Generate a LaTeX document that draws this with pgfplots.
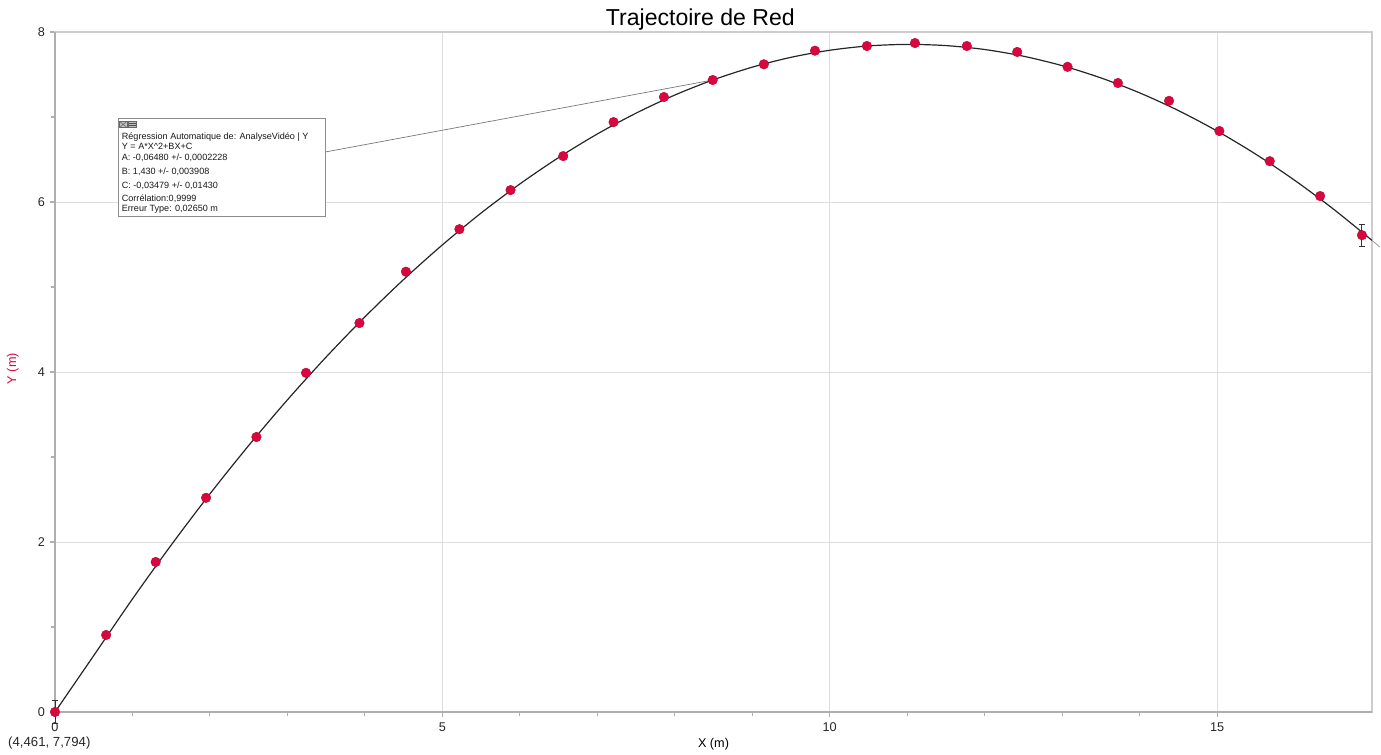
\documentclass[border=0pt]{standalone}
\usepackage{fontspec}
\setmainfont{Liberation Sans}
\usepackage{pgfplots}
\pgfplotsset{compat=1.18}
\usetikzlibrary{calc}
\definecolor{pointred}{RGB}{218,6,62}
\definecolor{gridgray}{RGB}{222,222,222}
\definecolor{axgray}{RGB}{175,175,175}
\definecolor{boxgray}{RGB}{205,205,205}

\begin{document}
\begin{tikzpicture}
\begin{axis}[
  scale only axis, width=987.75pt, height=510pt,
  xmin=0, xmax=17, ymin=0, ymax=8,
  xtick={0,5,10,15}, ytick={0,2,4,6,8},
  minor x tick num=4, minor y tick num=1,
  grid=major, major grid style={gridgray, line width=0.6pt},
  axis line style={boxgray, line width=0.8pt},
  tick style={axgray, line width=0.8pt},
  tick align=outside, major tick length=4pt, minor tick length=3pt,
  xtick pos=left, ytick pos=left,
  ticklabel style={font=\fontsize{9.5}{11}\selectfont, text=black!85},
  /pgf/number format/assume math mode=true,
  xticklabel style={yshift=-0.8pt},
  xlabel={X (m)}, ylabel={Y (m)},
  xlabel style={font=\fontsize{9.5}{11}\selectfont, at={(axis description cs:0.5,-0.048)}, anchor=center},
  ylabel style={font=\fontsize{9.5}{11}\selectfont, text=pointred, at={(axis description cs:-0.032,0.505)}, anchor=center},
  clip=false,
]
\coordinate (bl) at (rel axis cs:0,0);
\coordinate (tr) at (rel axis cs:1,1);
\draw[axgray, line width=0.8pt] (rel axis cs:0,1) -- (rel axis cs:0,0) -- (rel axis cs:1,0);

% leader line of the annotation
\draw[black!55, line width=0.5pt] (axis cs:3.488,6.588) -- (axis cs:8.49,7.435);

% fitted curve
\addplot[black!85, line width=0.9pt, smooth] coordinates {
(0,0) (0.5,0.664) (1,1.330) (1.5,1.964) (2,2.566) (2.5,3.135) (3,3.672)
(3.5,4.176) (4,4.648) (4.5,5.088) (5,5.495) (5.5,5.870) (6,6.212) (6.5,6.522)
(7,6.800) (7.5,7.045) (8,7.258) (8.5,7.438) (9,7.586) (9.5,7.702) (10,7.785)
(10.5,7.836) (11,7.854) (11.5,7.840) (12,7.794) (12.5,7.715) (13,7.604)
(13.5,7.460) (14,7.284) (14.5,7.076) (15,6.835) (15.5,6.562) (16,6.256)
(16.5,5.918) (17,5.548)};
\addplot[black!40, line width=0.6pt] coordinates {(17,5.548) (17.1,5.470)};

% error bars on first and last points
\addplot[only marks, mark=none, black,
  error bars/.cd, y dir=both, y explicit,
  error bar style={black!80, line width=0.7pt},
  error mark options={rotate=90, black!80, mark size=2.5pt, line width=0.7pt}]
  coordinates {(0,0) +- (0,0.13) (16.87,5.61) +- (0,0.13)};

% measured points
\addplot[only marks, mark=*, mark size=3.6pt,
  mark options={fill=pointred, draw=pointred!85!black, line width=0.3pt}]
  coordinates {
(0,0) (0.66,0.906) (1.30,1.765) (1.95,2.52) (2.60,3.235) (3.24,3.99)
(3.93,4.576) (4.53,5.18) (5.22,5.68) (5.88,6.14) (6.56,6.54) (7.21,6.94)
(7.86,7.235) (8.49,7.435) (9.15,7.62) (9.81,7.78) (10.48,7.835) (11.10,7.87)
(11.77,7.835) (12.42,7.765) (13.07,7.59) (13.72,7.40) (14.38,7.19)
(15.03,6.835) (15.68,6.48) (16.33,6.07) (16.87,5.61)};

% annotation box
\draw[black!45, fill=white, line width=0.5pt] (axis cs:0.814,6.988) rectangle (axis cs:3.488,5.835);
\draw[black!60, fill=black!25, line width=0.4pt] (axis cs:0.83,6.95) rectangle (axis cs:0.93,6.875);
\draw[black!60, line width=0.4pt] (axis cs:0.83,6.95) -- (axis cs:0.93,6.875) (axis cs:0.83,6.875) -- (axis cs:0.93,6.95);
\draw[black!60, fill=black!25, line width=0.4pt] (axis cs:0.95,6.95) rectangle (axis cs:1.05,6.875);
\draw[black!70, line width=0.3pt] (axis cs:0.96,6.925) -- (axis cs:1.04,6.925) (axis cs:0.96,6.90) -- (axis cs:1.04,6.90);
\begin{scope}[every node/.style={anchor=west, inner sep=0pt, font=\fontsize{6.8}{8}\selectfont, text=black!90}]
\node at (axis cs:0.86,6.765) {Régression Automatique de: AnalyseVidéo | Y};
\node at (axis cs:0.86,6.659) {Y = A*X\textasciicircum 2+BX+C};
\node at (axis cs:0.86,6.518) {A: -0,06480 +/- 0,0002228};
\node at (axis cs:0.86,6.353) {B: 1,430 +/- 0,003908};
\node at (axis cs:0.86,6.188) {C: -0,03479 +/- 0,01430};
\node at (axis cs:0.86,6.035) {Corrélation:0,9999};
\node at (axis cs:0.86,5.918) {Erreur Type: 0,02650 m};
\end{scope}

% title and coordinate readout
\node[anchor=base, font=\fontsize{17.3}{20}\selectfont, inner sep=0pt] at ([yshift=4.5pt]rel axis cs:0.49,1) {Trajectoire de Red};
\node[anchor=west, inner sep=0pt, font=\fontsize{9.9}{11}\selectfont, text=black!85] at (axis cs:-0.607,-0.365) {(4,461, 7,794)};
\end{axis}
\path ([xshift=-41.25pt,yshift=-32.25pt]bl) rectangle ([xshift=6.75pt,yshift=24pt]tr);
\end{tikzpicture}
\end{document}
